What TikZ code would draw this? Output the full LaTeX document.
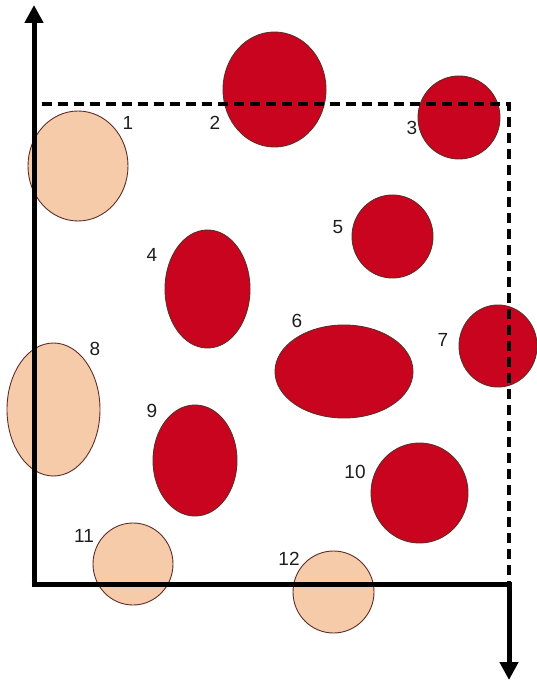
\documentclass[tikz,border=0pt]{standalone}
\usepackage{fontspec}
\setmainfont{Liberation Sans}
\usetikzlibrary{shapes.geometric,arrows.meta}
\definecolor{cellred}{RGB}{200,4,30}
\definecolor{cellpeach}{RGB}{246,203,170}
\definecolor{rim}{RGB}{95,45,40}
\definecolor{ink}{RGB}{30,30,30}
\tikzset{
  blob/.style={ellipse, draw=rim, line width=0.9pt, inner sep=0pt},
  redblob/.style={blob, fill=cellred},
  peachblob/.style={blob, fill=cellpeach},
  lbl/.style={font=\fontsize{19}{21}\selectfont, text=ink, inner sep=0pt},
  axis/.style={line width=5pt, -{Triangle[length=18pt,width=18pt]}},
  frame/.style={line width=4pt, dash pattern=on 10pt off 6pt}
}
\begin{document}
\begin{tikzpicture}[x=1pt,y=-1pt]
\useasboundingbox (0,0) rectangle (537,684);
% cells
\node[peachblob, minimum width=100pt, minimum height=110pt] (c1) at (78,166) {};
\node[redblob, minimum width=103pt, minimum height=115pt] (c2) at (274.5,89.5) {};
\node[redblob, minimum width=82pt, minimum height=83pt] (c3) at (459,117.5) {};
\node[redblob, minimum width=85pt, minimum height=118pt] (c4) at (207.5,289) {};
\node[redblob, minimum width=81pt, minimum height=83pt] (c5) at (392.5,236.5) {};
\node[redblob, minimum width=138pt, minimum height=93pt] (c6) at (344,371.5) {};
\node[redblob, minimum width=78pt, minimum height=82pt] (c7) at (498,346) {};
\node[peachblob, minimum width=93pt, minimum height=133pt] (c8) at (53.5,409.5) {};
\node[redblob, minimum width=84pt, minimum height=111pt] (c9) at (195,460.5) {};
\node[redblob, minimum width=97pt, minimum height=100pt] (c10) at (419.5,493) {};
\node[peachblob, minimum width=80pt, minimum height=82pt] (c11) at (133,564) {};
\node[peachblob, minimum width=81pt, minimum height=82pt] (c12) at (333.5,592) {};
% labels
\node[lbl] (l1) at (128,123) {1};
\node[lbl] (l2) at (215,123) {2};
\node[lbl] (l3) at (412,128) {3};
\node[lbl] (l4) at (152,255) {4};
\node[lbl] (l5) at (338,227) {5};
\node[lbl] (l6) at (297,321) {6};
\node[lbl] (l7) at (443,340) {7};
\node[lbl] (l8) at (95,349) {8};
\node[lbl] (l9) at (152,411) {9};
\node[lbl] (l10) at (355,472) {10};
\node[lbl] (l11) at (84,536) {11};
\node[lbl] (l12) at (289,559) {12};
% axes and frame
\coordinate (o) at (34,584);
\coordinate (ytop) at (34,5);
\coordinate (br) at (509,584);
\coordinate (bot) at (509,680);
\coordinate (dl) at (42,104);
\coordinate (dr) at (509,104);
\draw[frame] (dl) -- (dr) -- (br);
\draw[axis] (o) -- (ytop);
\draw[line width=5pt] ([xshift=-2.5pt]o) -- ([xshift=2.5pt]br);
\draw[axis] ([yshift=-2.5pt]br) -- (bot);
\end{tikzpicture}
\end{document}
